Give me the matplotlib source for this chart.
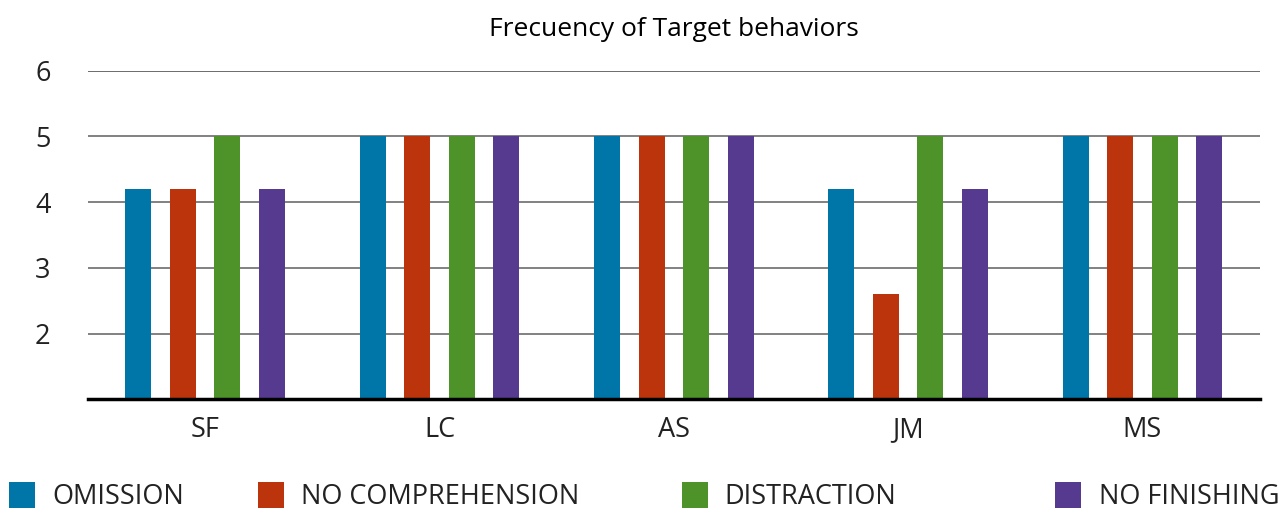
import matplotlib.pyplot as plt
import numpy as np

plt.rcParams['font.family'] = ['Open Sans', 'DejaVu Sans']

students = ['SF', 'LC', 'AS', 'JM', 'MS']
series = ['OMISSION', 'NO COMPREHENSION', 'DISTRACTION', 'NO FINISHING']
omission = [4.2, 5, 5, 4.2, 5]
no_comprehension = [4.2, 5, 5, 2.6, 5]
distraction = [5, 5, 5, 5, 5]
no_finishing = [4.2, 5, 5, 4.2, 5]
colors = ['#0076A8', '#BC340C', '#4E922A', '#553A8F']

values = [omission, no_comprehension, distraction, no_finishing]

fig = plt.figure(figsize=(12.84, 5.08), dpi=100)
ax = fig.add_axes([0.0685, 0.2136, 0.9125, 0.6476])

x = np.arange(len(students))
step = 0.19
width = 0.111
bars = []
for i, (vals, c) in enumerate(zip(values, colors)):
    b = ax.bar(x + (i - 1.5) * step, np.array(vals) - 1, width, bottom=1, color=c, zorder=3)
    bars.append(b)

ax.set_xlim(-0.5, 4.5)
ax.set_ylim(1, 6)
ax.set_yticks([2, 3, 4, 5, 6])
ax.set_xticks(x)
ax.set_xticklabels(students)
ax.tick_params(axis='both', length=0, labelsize=19.5, colors='#222222')
ax.tick_params(axis='y', pad=27)
ax.tick_params(axis='x', pad=12)
ax.grid(axis='y', color='#777777', linewidth=1.3, zorder=0)
for s in ['top', 'right', 'left']:
    ax.spines[s].set_visible(False)
ax.spines['bottom'].set_linewidth(2.5)
ax.spines['bottom'].set_color('black')
ax.spines['bottom'].set_zorder(4)
ax.axhline(6, color='black', linewidth=1.2, zorder=1)

fig.text(0.525, 0.941, 'Frecuency of Target behaviors', ha='center', va='center', fontsize=19)

leg_x = [0.007, 0.201, 0.531, 0.822]
for b, name, lx in zip(bars, series, leg_x):
    fig.legend([b], [name], loc='center left', bbox_to_anchor=(lx, 0.022), frameon=False,
               fontsize=19.5, handlelength=0.96, handleheight=1.1, handletextpad=0.63,
               borderaxespad=0, borderpad=0, labelcolor='#222222')

fig.savefig('out.png', dpi=100)
